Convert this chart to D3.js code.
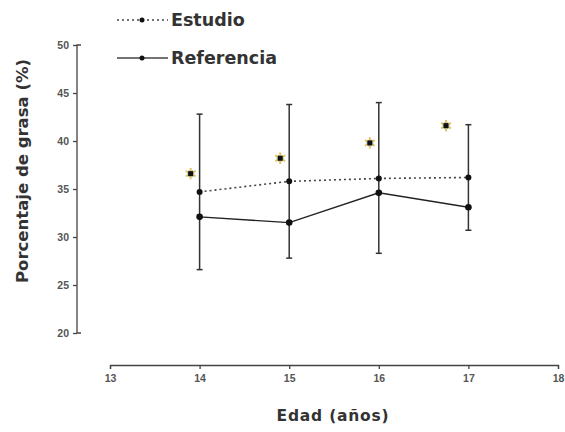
<!DOCTYPE html>
<html>
<head>
<meta charset="utf-8">
<script src="https://cdn.jsdelivr.net/npm/d3@7"></script>
<style>
  body { margin: 0; background: #fff; }
  svg { font-family: "DejaVu Sans", Verdana, sans-serif; }
</style>
</head>
<body>
<svg id="chart" width="565" height="432"></svg>
<script>
// Data
const ages = [14, 15, 16, 17];
const estudio = [34.7, 35.8, 36.1, 36.2];
const referencia = [32.1, 31.5, 34.6, 33.1];
const errLow = [26.6, 27.8, 28.3, 30.7];
const errHigh = [42.8, 43.8, 44.0, 41.7];
// significance asterisks
const starAges = [13.9, 14.9, 15.9, 16.75];
const starValues = [36.6, 38.2, 39.8, 41.6];

const xTicks = [13, 14, 15, 16, 17, 18];
const yTicks = [20, 25, 30, 35, 40, 45, 50];

const svg = d3.select("#chart");
const x = d3.scaleLinear().domain([13, 18]).range([110, 558]);
const y = d3.scaleLinear().domain([20, 50]).range([333, 45]);
const ink = "#222";

// Axes
const yAxis = svg.append("g")
  .attr("transform", "translate(77,0)")
  .call(d3.axisLeft(y).tickValues(yTicks).tickFormat(d3.format("d")).tickSize(4).tickPadding(4));
const xAxis = svg.append("g")
  .attr("transform", "translate(0,365)")
  .call(d3.axisBottom(x).tickValues(xTicks).tickFormat(d3.format("d")).tickSize(4).tickPadding(6));
[yAxis, xAxis].forEach(g => {
  g.select(".domain").attr("stroke", "#444").attr("stroke-width", 1.3);
  g.selectAll(".tick line").attr("stroke", "#444").attr("stroke-width", 1.3);
  g.selectAll(".tick text").attr("fill", "#555").attr("font-size", 10.5).attr("font-weight", "bold");
});
// the y-axis in the figure has small end ticks to the right
yAxis.select(".domain").attr("d", "M4," + y(50) + "H0V" + y(20) + "H4");

// Axis titles
svg.append("text")
  .attr("x", 333).attr("y", 421)
  .attr("text-anchor", "middle")
  .attr("font-size", 15.5).attr("font-weight", "bold").attr("fill", "#333")
  .attr("letter-spacing", 0.8)
  .text("Edad (años)");
svg.append("text")
  .attr("transform", "translate(28,171) rotate(-90)")
  .attr("text-anchor", "middle")
  .attr("font-size", 16.5).attr("font-weight", "bold").attr("fill", "#333")
  .text("Porcentaje de grasa (%)");

// Error bars
const eb = svg.append("g").attr("stroke", "#333").attr("stroke-width", 1.5);
ages.forEach((a, i) => {
  eb.append("line").attr("x1", x(a)).attr("x2", x(a)).attr("y1", y(errLow[i])).attr("y2", y(errHigh[i]));
  [errLow[i], errHigh[i]].forEach(v => {
    eb.append("line").attr("x1", x(a) - 3).attr("x2", x(a) + 3).attr("y1", y(v)).attr("y2", y(v));
  });
});

// Lines
const line = vals => d3.line().x((d, i) => x(ages[i])).y(d => y(d))(vals);
svg.append("path").attr("d", line(estudio))
  .attr("fill", "none").attr("stroke", "#444").attr("stroke-width", 1.6)
  .attr("stroke-dasharray", "2,3");
svg.append("path").attr("d", line(referencia))
  .attr("fill", "none").attr("stroke", ink).attr("stroke-width", 1.4);

// Markers
svg.selectAll(".m-est").data(estudio).join("circle")
  .attr("cx", (d, i) => x(ages[i])).attr("cy", d => y(d)).attr("r", 3).attr("fill", "#111");
svg.selectAll(".m-ref").data(referencia).join("circle")
  .attr("cx", (d, i) => x(ages[i])).attr("cy", d => y(d)).attr("r", 3.3).attr("fill", "#111");

// Asterisks
const stars = svg.append("g");
starAges.forEach((a, i) => {
  const g = stars.append("g").attr("transform", `translate(${x(a)},${y(starValues[i])})`);
  g.append("path").attr("d", d3.symbol(d3.symbolAsterisk, 90)())
    .attr("stroke", "#e6c25a").attr("stroke-width", 2).attr("fill", "none");
  g.append("path").attr("d", d3.symbol(d3.symbolAsterisk, 40)()).attr("transform", "rotate(30)")
    .attr("stroke", "#8cc0e0").attr("stroke-width", 1).attr("fill", "none");
  g.append("rect").attr("x", -2.5).attr("y", -2.5).attr("width", 5).attr("height", 5).attr("fill", "#111");
});

// Legend
const legend = svg.append("g");
const items = [
  { label: "Estudio", y: 20, dash: "2,3" },
  { label: "Referencia", y: 58, dash: null }
];
items.forEach(it => {
  legend.append("line").attr("x1", 117).attr("x2", 168).attr("y1", it.y).attr("y2", it.y)
    .attr("stroke", "#444").attr("stroke-width", 1.5)
    .attr("stroke-dasharray", it.dash);
  legend.append("circle").attr("cx", 142).attr("cy", it.y).attr("r", 2.5).attr("fill", "#111");
  legend.append("text").attr("x", 171).attr("y", it.y + 6)
    .attr("font-size", 17.5).attr("font-weight", "bold").attr("fill", "#333")
    .text(it.label);
});
</script>
</body>
</html>
